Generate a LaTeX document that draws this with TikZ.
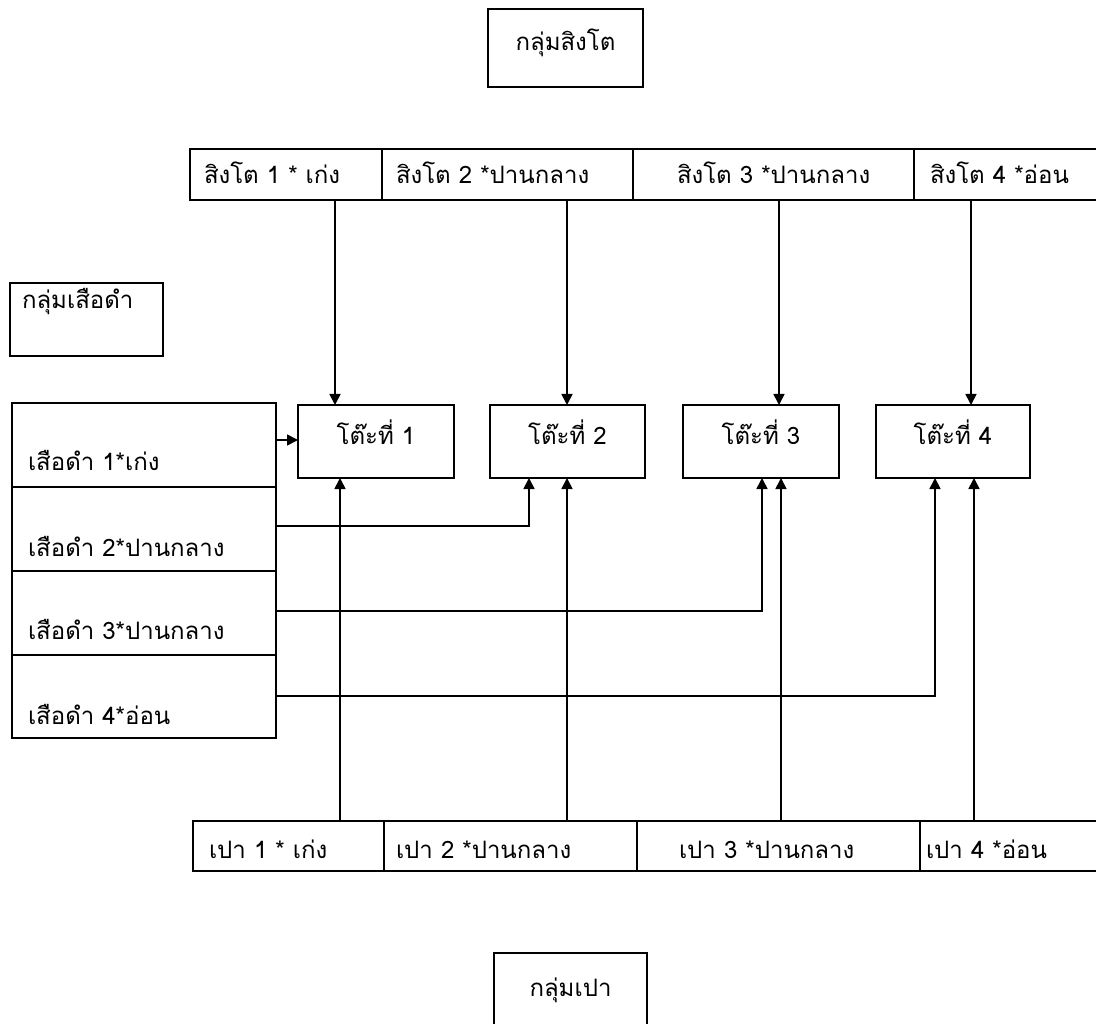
\documentclass[tikz,border=0pt]{standalone}
\usepackage{fontspec}
\newfontfamily\thaifont[Script=Thai]{Loma}
\usetikzlibrary{arrows.meta}
\begin{document}
\begin{tikzpicture}[x=1pt,y=-1pt,
  box/.style={draw, line width=1.7pt, inner sep=0pt, outer sep=0pt},
  txt/.style={font=\thaifont\fontsize{24}{28}\selectfont, inner sep=0pt, outer sep=0pt},
  arr/.style={line width=1.7pt, -{Triangle[length=11pt,width=11pt]}},
  ln/.style={line width=1.7pt}]
\clip (0,0) rectangle (1096,1024);
\fill[white] (0,0) rectangle (1096,1024);
% group boxes
\node[box, minimum width=155pt, minimum height=78pt] (gS) at (565.5,48) {};
\node[box, minimum width=153pt, minimum height=73pt] (gT) at (86.5,319.5) {};
\node[box, minimum width=153pt, minimum height=87pt] (gP) at (570.5,996.5) {};
\node[txt, anchor=base] (gSt) at (565.5,51) {กลุ่มสิงโต};
\node[txt, anchor=base west] (gTt) at (22,309) {กลุ่มเสือดำ};
\node[txt, anchor=base] (gPt) at (570.5,996) {กลุ่มเปา};
% top row
\node[box, minimum width=192pt, minimum height=51pt] (s1) at (286,174.5) {};
\node[box, minimum width=251pt, minimum height=51pt] (s2) at (507.5,174.5) {};
\node[box, minimum width=281pt, minimum height=51pt] (s3) at (773.5,174.5) {};
\node[box, minimum width=206pt, minimum height=51pt] (s4) at (1017,174.5) {};
\node[txt, anchor=base west] (s1t) at (204,184) {สิงโต 1 * เก่ง};
\node[txt, anchor=base west] (s2t) at (396,184) {สิงโต 2 *ปานกลาง};
\node[txt, anchor=base west] (s3t) at (677,184) {สิงโต 3 *ปานกลาง};
\node[txt, anchor=base west] (s4t) at (930,184) {สิงโต 4 *อ่อน};
% tables
\node[box, minimum width=156pt, minimum height=73pt] (t1) at (376,441.5) {};
\node[box, minimum width=155pt, minimum height=73pt] (t2) at (567.5,441.5) {};
\node[box, minimum width=156pt, minimum height=73pt] (t3) at (761,441.5) {};
\node[box, minimum width=154pt, minimum height=73pt] (t4) at (953,441.5) {};
\node[txt, anchor=base] (t1t) at (376,445) {โต๊ะที่ 1};
\node[txt, anchor=base] (t2t) at (567.5,445) {โต๊ะที่ 2};
\node[txt, anchor=base] (t3t) at (761,445) {โต๊ะที่ 3};
\node[txt, anchor=base] (t4t) at (953,445) {โต๊ะที่ 4};
% left column
\node[box, minimum width=264pt, minimum height=84pt] (L1) at (144,445) {};
\node[box, minimum width=264pt, minimum height=84pt] (L2) at (144,529) {};
\node[box, minimum width=264pt, minimum height=84pt] (L3) at (144,613) {};
\node[box, minimum width=264pt, minimum height=83pt] (L4) at (144,696.5) {};
\node[txt, anchor=base west] (L1t) at (28,471) {เสือดำ 1*เก่ง};
\node[txt, anchor=base west] (L2t) at (28,556) {เสือดำ 2*ปานกลาง};
\node[txt, anchor=base west] (L3t) at (28,639) {เสือดำ 3*ปานกลาง};
\node[txt, anchor=base west] (L4t) at (28,724) {เสือดำ 4*อ่อน};
% bottom row
\node[box, minimum width=191pt, minimum height=50pt] (b1) at (288.5,846) {};
\node[box, minimum width=253pt, minimum height=50pt] (b2) at (510.5,846) {};
\node[box, minimum width=283pt, minimum height=50pt] (b3) at (778.5,846) {};
\node[box, minimum width=200pt, minimum height=50pt] (b4) at (1020,846) {};
\node[txt, anchor=base west] (b1t) at (209,858) {เปา 1 * เก่ง};
\node[txt, anchor=base west] (b2t) at (396,858) {เปา 2 *ปานกลาง};
\node[txt, anchor=base west] (b3t) at (679,858) {เปา 3 *ปานกลาง};
\node[txt, anchor=base west] (b4t) at (926,858) {เปา 4 *อ่อน};
% guide coordinates
\coordinate (xs1) at (335,0);
\coordinate (xs2) at (567,0);
\coordinate (xs3) at (779,0);
\coordinate (xs4) at (971,0);
\coordinate (xb1) at (340,0);
\coordinate (xb2) at (567,0);
\coordinate (xb3) at (781,0);
\coordinate (xb4) at (974,0);
\coordinate (xl2) at (529,0);
\coordinate (xl3) at (762,0);
\coordinate (xl4) at (935,0);
\coordinate (yl1) at (0,440);
\coordinate (yl2) at (0,526);
\coordinate (yl3) at (0,611);
\coordinate (yl4) at (0,696);
% connectors from lions
\draw[arr] (s1.south -| xs1) -- (t1.north -| xs1);
\draw[arr] (s2.south -| xs2) -- (t2.north -| xs2);
\draw[arr] (s3.south -| xs3) -- (t3.north -| xs3);
\draw[arr] (s4.south -| xs4) -- (t4.north -| xs4);
% connectors from panthers
\draw[arr] (L1.east |- yl1) -- (t1.west |- yl1);
\draw[arr] (L2.east |- yl2) -| (t2.south -| xl2);
\draw[arr] (L3.east |- yl3) -| (t3.south -| xl3);
\draw[arr] (L4.east |- yl4) -| (t4.south -| xl4);
% connectors from pao
\draw[arr] (b1.north -| xb1) -- (t1.south -| xb1);
\draw[arr] (b2.north -| xb2) -- (t2.south -| xb2);
\draw[arr] (b3.north -| xb3) -- (t3.south -| xb3);
\draw[arr] (b4.north -| xb4) -- (t4.south -| xb4);
\end{tikzpicture}
\end{document}
